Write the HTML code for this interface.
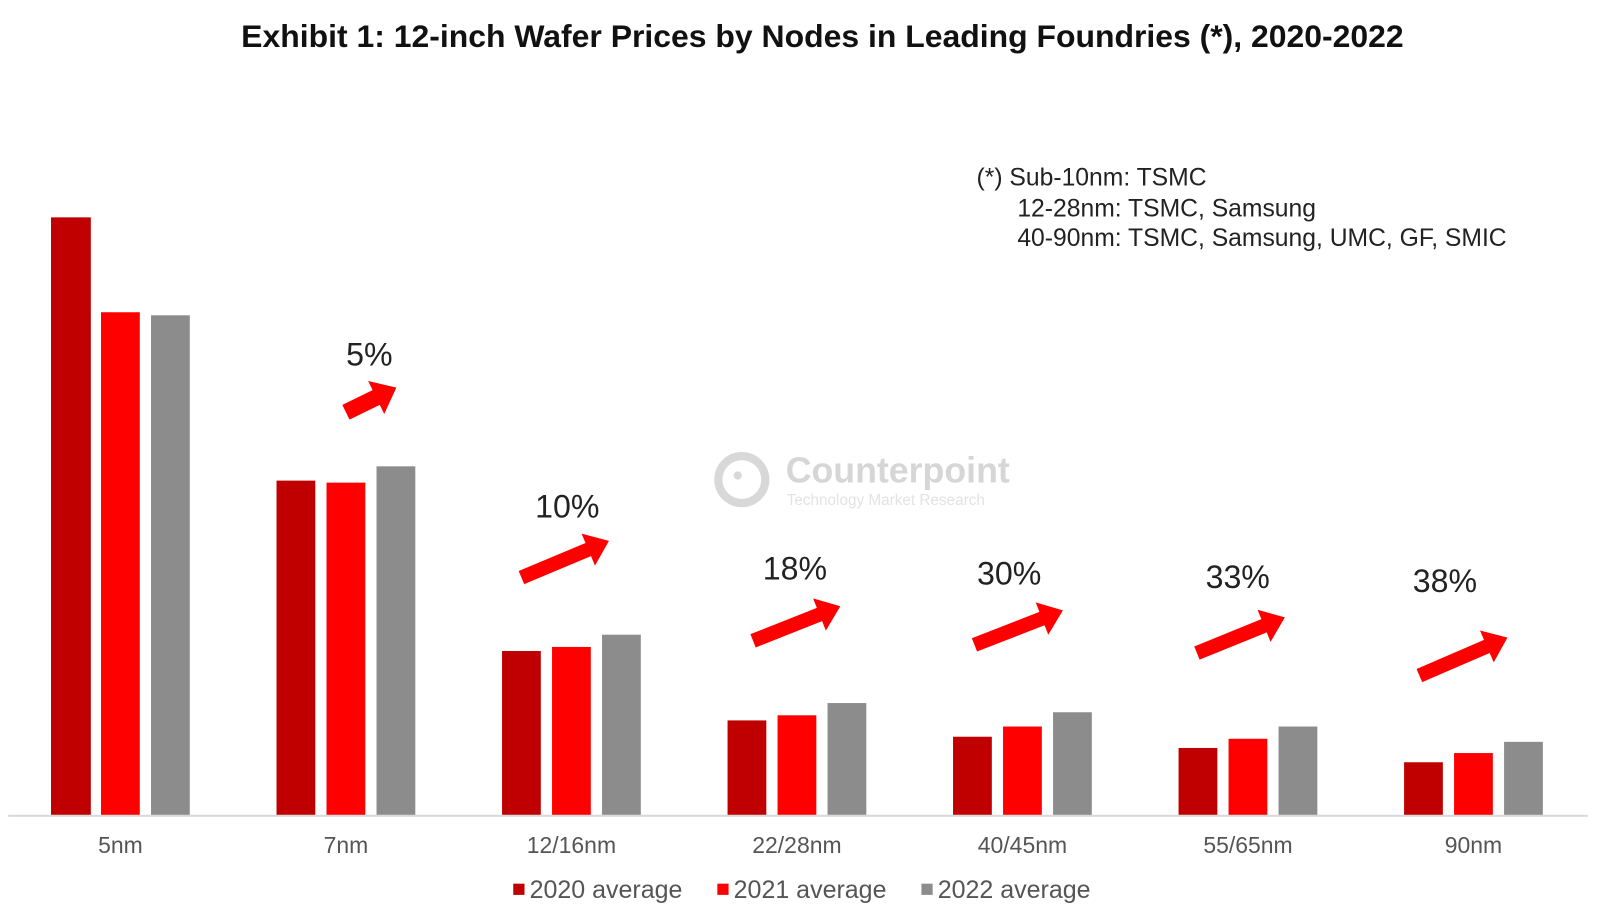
<!DOCTYPE html>
<html><head><meta charset="utf-8"><style>
body{margin:0;background:#fff;}
svg{display:block;font-family:"Liberation Sans",Arial,sans-serif;}
</style></head><body>
<svg width="1600" height="908" viewBox="0 0 1600 908" xmlns="http://www.w3.org/2000/svg">
<rect width="1600" height="908" fill="#fff"/>
<g transform="scale(1.0204)">
<text x="806" y="46" text-anchor="middle" font-size="31.3" font-weight="bold" fill="#111">Exhibit 1: 12-inch Wafer Prices by Nodes in Leading Foundries (*), 2020-2022</text>
<g font-size="24.2" fill="#222">
<text x="957" y="182">(*) Sub-10nm: TSMC</text>
<text x="997" y="212">12-28nm: TSMC, Samsung</text>
<text x="997" y="241">40-90nm: TSMC, Samsung, UMC, GF, SMIC</text>
</g>
<g opacity="0.9">
<circle cx="727" cy="470" r="23" fill="none" stroke="#d4d4d4" stroke-width="8"/>
<circle cx="723" cy="466" r="4" fill="#d4d4d4"/>
<text x="770" y="473" font-size="35" font-weight="bold" fill="#d2d2d2">Counterpoint</text>
<text x="771" y="495" font-size="15" fill="#e0e0e0">Technology Market Research</text>
</g>
<g>
<rect x="50" y="213" width="39" height="586" fill="#c00000"/>
<rect x="99" y="306" width="38" height="493" fill="#ff0000"/>
<rect x="148" y="309" width="38" height="490" fill="#8c8c8c"/>
<rect x="271" y="471" width="38" height="328" fill="#c00000"/>
<rect x="320" y="473" width="38" height="326" fill="#ff0000"/>
<rect x="369" y="457" width="38" height="342" fill="#8c8c8c"/>
<rect x="492" y="638" width="38" height="161" fill="#c00000"/>
<rect x="541" y="634" width="38" height="165" fill="#ff0000"/>
<rect x="590" y="622" width="38" height="177" fill="#8c8c8c"/>
<rect x="713" y="706" width="38" height="93" fill="#c00000"/>
<rect x="762" y="701" width="38" height="98" fill="#ff0000"/>
<rect x="811" y="689" width="38" height="110" fill="#8c8c8c"/>
<rect x="934" y="722" width="38" height="77" fill="#c00000"/>
<rect x="983" y="712" width="38" height="87" fill="#ff0000"/>
<rect x="1032" y="698" width="38" height="101" fill="#8c8c8c"/>
<rect x="1155" y="733" width="38" height="66" fill="#c00000"/>
<rect x="1204" y="724" width="38" height="75" fill="#ff0000"/>
<rect x="1253" y="712" width="38" height="87" fill="#8c8c8c"/>
<rect x="1376" y="747" width="38" height="52" fill="#c00000"/>
<rect x="1425" y="738" width="38" height="61" fill="#ff0000"/>
<rect x="1474" y="727" width="38" height="72" fill="#8c8c8c"/>
</g>
<line x1="8" y1="799.5" x2="1556" y2="799.5" stroke="#d9d9d9" stroke-width="2"/>
<g font-size="22.5" fill="#555" text-anchor="middle">
<text x="118" y="836">5nm</text>
<text x="339" y="836">7nm</text>
<text x="560" y="836">12/16nm</text>
<text x="781" y="836">22/28nm</text>
<text x="1002" y="836">40/45nm</text>
<text x="1223" y="836">55/65nm</text>
<text x="1444" y="836">90nm</text>
</g>
<g fill="#ff0000">
<polygon transform="translate(339,404) rotate(-26)" points="0,-8 33,-8 33,-18 55,0 33,18 33,8 0,8"/>
<polygon transform="translate(511,566) rotate(-22.7)" points="0,-7 71,-7 71,-17 93,0 71,17 71,7 0,7"/>
<polygon transform="translate(738,628) rotate(-21.6)" points="0,-7 70,-7 70,-17 92,0 70,17 70,7 0,7"/>
<polygon transform="translate(955,632) rotate(-21.3)" points="0,-7 71,-7 71,-17 93,0 71,17 71,7 0,7"/>
<polygon transform="translate(1173,640) rotate(-22.1)" points="0,-7 71,-7 71,-17 93,0 71,17 71,7 0,7"/>
<polygon transform="translate(1391,662) rotate(-23.3)" points="0,-7 72,-7 72,-17 94,0 72,17 72,7 0,7"/>
</g>
<g font-size="31.5" fill="#222" text-anchor="middle">
<text x="362" y="358">5%</text>
<text x="556" y="507">10%</text>
<text x="779" y="568">18%</text>
<text x="989" y="573">30%</text>
<text x="1213" y="576">33%</text>
<text x="1416" y="580">38%</text>
</g>
<g font-size="24.5" fill="#555">
<rect x="503" y="866" width="11" height="11" fill="#c00000"/>
<text x="519" y="880">2020 average</text>
<rect x="703" y="866" width="11" height="11" fill="#ff0000"/>
<text x="719" y="880">2021 average</text>
<rect x="903" y="866" width="11" height="11" fill="#8c8c8c"/>
<text x="919" y="880">2022 average</text>
</g>
</g>
</svg>
</body></html>
